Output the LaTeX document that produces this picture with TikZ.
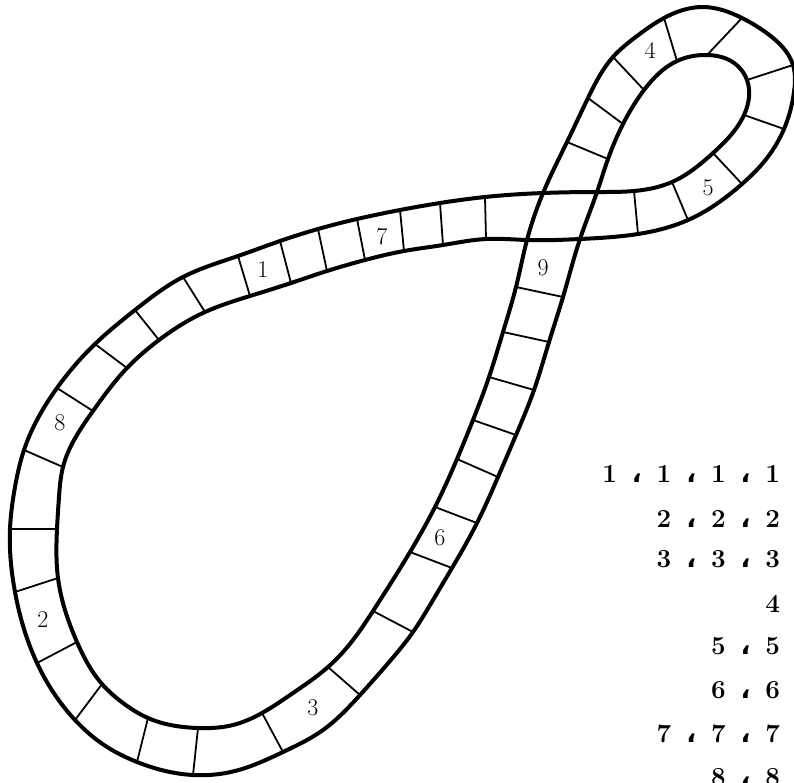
\documentclass[tikz,border=0pt]{standalone}
\usepackage{fontspec}
\newfontfamily\arabicfont[Script=Arabic]{DejaVu Sans}
\TeXXeTstate=1
\usetikzlibrary{hobby}
\tikzset{
  rim/.style={line width=4pt,line join=round,use Hobby shortcut,closed=true},
  wall/.style={line width=1.8pt},
  cellnum/.style={font=\fontsize{24}{28}\selectfont,inner sep=0pt},
  listrow/.style={font=\fontsize{26}{30}\selectfont\bfseries,inner sep=0pt,anchor=base east},
}
\newcommand\ac{{\arabicfont ،}}
\newcommand\slot[1]{\makebox[27.2pt]{#1}}

\begin{document}
\begin{tikzpicture}[x=1pt,y=-1pt]
    \clip (0,0) rectangle (794,782);
    % --- wall end points: a on one rim, b on the other ---
    \foreach \n/\ax/\ay/\bx/\by in {
        1/238/256/250/296, 2/280/241/291/283, 3/318/229/327/271, 4/357/219/365/260,
        5/400/210/404/251, 6/440/203/443/245, 7/485/197/486/239,
        8/634/191/638/234, 9/672/182/688/220, 10/713/153/742/184, 11/744/115/784/129,
        12/747/80/793/65, 13/707/55/742/18, 14/677/61/664/18, 15/644/90/613/57,
        16/623/124/588/98, 17/608/159/567/142,
        18/563/297/516/287, 19/549/342/503/332, 20/534/390/489/377, 21/516/435/473/420,
        22/498/477/457/459, 23/477/523/435/507, 24/452/568/410/552, 25/413/632/373/611,
        26/360/695/328/667, 27/283/752/262/713, 28/193/775/198/728, 29/137/762/148/718,
        30/75/720/102/684, 31/37/663/77/642, 32/15/592/58/578, 33/10/529/57/529,
        34/24/450/63/467, 35/57/388/93/411, 36/95/344/127/368, 37/135/310/159/340,
        38/183/277/205/312}
      {\coordinate (a\n) at (\ax,\ay); \coordinate (b\n) at (\bx,\by);}
    % --- where the rims cross ---
    \coordinate (x1) at (543,193);
    \coordinate (x2) at (597,192);
    \coordinate (x3) at (527,240);
    \coordinate (x4) at (580,239);
    % --- the two rims of the track ---
    \draw[rim] (a1) .. (a2) .. (a3) .. (a4) .. (a5) .. (a6) .. (a7) .. (x1) .. (x2)
        .. (a8) .. (a9) .. (a10) .. (a11) .. (749,97) .. (a12) .. (731,61) .. (a13)
        .. (a14) .. (a15) .. (a16) .. (a17) .. (x2) .. (x4) .. (a18) .. (a19) .. (a20)
        .. (a21) .. (a22) .. (a23) .. (a24) .. (433,600) .. (a25) .. (390,661) .. (a26)
        .. (323,730) .. (a27) .. (235,771) .. (a28) .. (a29) .. (104,745) .. (a30)
        .. (a31) .. (a32) .. (a33) .. (15,487) .. (a34) .. (a35) .. (a36) .. (a37) .. (a38);
    \draw[rim] (b1) .. (b2) .. (b3) .. (b4) .. (b5) .. (b6) .. (b7) .. (x3) .. (x4)
        .. (b8) .. (b9) .. (b10) .. (763,163) .. (b11) .. (794,92) .. (b12) .. (768,34)
        .. (b13) .. (703,7) .. (b14) .. (637,36) .. (b15) .. (b16) .. (b17) .. (x1)
        .. (x3) .. (b18) .. (b19) .. (b20) .. (b21) .. (b22) .. (b23) .. (b24) .. (b25)
        .. (353,640) .. (b26) .. (293,693) .. (b27) .. (233,725) .. (b28) .. (b29)
        .. (123,703) .. (b30) .. (b31) .. (b32) .. (b33) .. (59,497) .. (b34) .. (b35)
        .. (b36) .. (b37) .. (b38);
    % --- cell walls ---
    \foreach \n in {1,...,38} \draw[wall] (a\n) -- (b\n);
    % --- numbered cells ---
    \node[cellnum] (c1) at (263,270) {1};
    \node[cellnum] (c7) at (382,237) {7};
    \node[cellnum] (c9) at (543,268) {9};
    \node[cellnum] (c4) at (650,50) {4};
    \node[cellnum] (c5) at (708,188) {5};
    \node[cellnum] (c6) at (440,538) {6};
    \node[cellnum] (c3) at (313,708) {3};
    \node[cellnum] (c2) at (43,620) {2};
    \node[cellnum] (c8) at (60,423) {8};
    % --- the list ---
    \node[listrow] (r1) at (786.6,482) {\beginR\slot{1}\slot{\ac}\slot{1}\slot{\ac}\slot{1}\slot{\ac}\slot{1}\endR};
    \node[listrow] (r2) at (786.6,527) {\beginR\slot{2}\slot{\ac}\slot{2}\slot{\ac}\slot{2}\endR};
    \node[listrow] (r3) at (786.6,567) {\beginR\slot{3}\slot{\ac}\slot{3}\slot{\ac}\slot{3}\endR};
    \node[listrow] (r4) at (786.6,612) {\beginR\slot{4}\endR};
    \node[listrow] (r5) at (786.6,654) {\beginR\slot{5}\slot{\ac}\slot{5}\endR};
    \node[listrow] (r6) at (786.6,698) {\beginR\slot{6}\slot{\ac}\slot{6}\endR};
    \node[listrow] (r7) at (786.6,742) {\beginR\slot{7}\slot{\ac}\slot{7}\slot{\ac}\slot{7}\endR};
    \node[listrow] (r8) at (786.6,785) {\beginR\slot{8}\slot{\ac}\slot{8}\endR};
\end{tikzpicture}
\end{document}
